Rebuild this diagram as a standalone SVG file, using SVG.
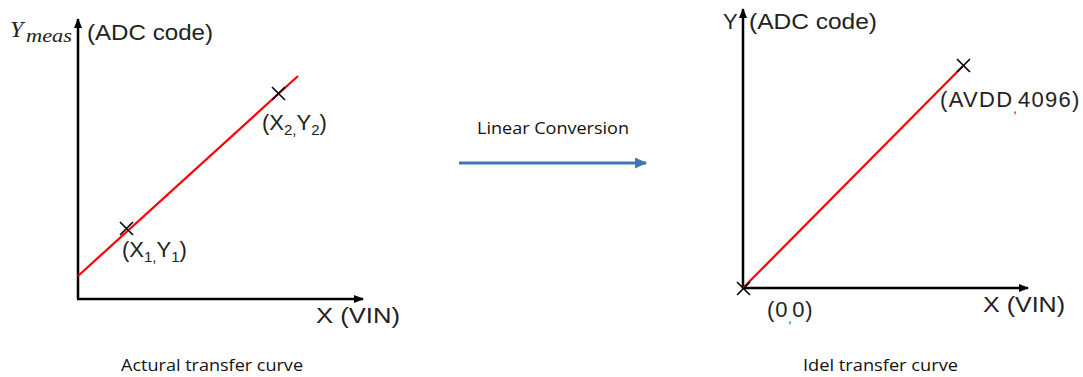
<svg xmlns="http://www.w3.org/2000/svg" width="1083" height="377" viewBox="0 0 1083 377">
<style>
.ax{stroke:#000;stroke-width:2.5;fill:none}
.red{stroke:#f00;stroke-width:2.2;fill:none}
.cr{stroke:#000;stroke-width:1.6;fill:none}
.lbl{font-family:"Liberation Sans",Arial,sans-serif;font-size:22px;fill:#222}
.sub{font-family:"Liberation Sans",Arial,sans-serif;font-size:15px;fill:#222}
.cap{font-family:"Open Sans","Liberation Sans",sans-serif;font-size:16px;fill:#111}
</style>
<defs>
<marker id="ah" markerWidth="10" markerHeight="8" refX="9" refY="4" orient="auto" markerUnits="userSpaceOnUse">
<path d="M0,0 L10,4 L0,8 Z" fill="#000"/>
</marker>
<marker id="bh" markerWidth="12" markerHeight="11" refX="11" refY="5.5" orient="auto" markerUnits="userSpaceOnUse">
<path d="M0,0 L12,5.5 L0,11 Z" fill="#4473b0"/>
</marker>
</defs>

<g id="left-chart">
<line class="ax" x1="78" y1="299" x2="78" y2="19" marker-end="url(#ah)"/>
<line class="ax" x1="77" y1="299" x2="363" y2="299" marker-end="url(#ah)"/>
<line class="red" x1="78" y1="276" x2="298" y2="76"/>
<path class="cr" d="M120,222 L133,235 M133,222 L120,235"/>
<path class="cr" d="M272,87 L285,100 M285,87 L272,100"/>
<text x="10" y="37" font-family="'Liberation Serif',serif" font-style="italic" font-size="24" fill="#222">Y</text>
<text x="26" y="42" font-family="'Liberation Serif',serif" font-style="italic" font-size="19" fill="#222" textLength="46" lengthAdjust="spacingAndGlyphs">meas</text>
<text class="lbl" x="87" y="40" textLength="126" lengthAdjust="spacingAndGlyphs">(ADC code)</text>
<text class="lbl" x="122" y="257">(X<tspan class="sub" dy="5">1,</tspan><tspan dy="-5">Y</tspan><tspan class="sub" dy="5">1</tspan><tspan dy="-5">)</tspan></text>
<text class="lbl" x="262" y="130">(X<tspan class="sub" dy="5">2,</tspan><tspan dy="-5">Y</tspan><tspan class="sub" dy="5">2</tspan><tspan dy="-5">)</tspan></text>
<text class="lbl" x="316" y="323" textLength="84" lengthAdjust="spacingAndGlyphs">X  (VIN)</text>
<text class="cap" x="121" y="371" textLength="182" lengthAdjust="spacingAndGlyphs">Actural transfer curve</text>
</g>

<g id="conversion">
<line x1="459" y1="163" x2="646" y2="163" stroke="#4473b0" stroke-width="3" marker-end="url(#bh)"/>
<text class="cap" x="477" y="134" textLength="152" lengthAdjust="spacingAndGlyphs">Linear Conversion</text>
</g>

<g id="right-chart">
<line class="ax" x1="743" y1="289" x2="743" y2="9" marker-end="url(#ah)"/>
<line class="ax" x1="742" y1="288" x2="1028" y2="288" marker-end="url(#ah)"/>
<line class="red" x1="743" y1="288" x2="963" y2="66"/>
<path class="cr" d="M737,282 L750,295 M750,282 L737,295"/>
<path class="cr" d="M957,59 L970,72 M970,59 L957,72"/>
<text class="lbl" x="723" y="29">Y</text>
<text class="lbl" x="749" y="29" textLength="128" lengthAdjust="spacingAndGlyphs">(ADC code)</text>
<text class="lbl" x="940" y="107" letter-spacing="1.3">(AVDD<tspan font-size="12" dy="6">,</tspan><tspan dy="-6">4096)</tspan></text>
<text class="lbl" x="767" y="317" letter-spacing="0.8">(0<tspan font-size="12" dy="6">,</tspan><tspan dy="-6">0)</tspan></text>
<text class="lbl" x="983" y="312" textLength="82" lengthAdjust="spacingAndGlyphs">X  (VIN)</text>
<text class="cap" x="803" y="371" textLength="155" lengthAdjust="spacingAndGlyphs">Idel transfer curve</text>
</g>
</svg>
